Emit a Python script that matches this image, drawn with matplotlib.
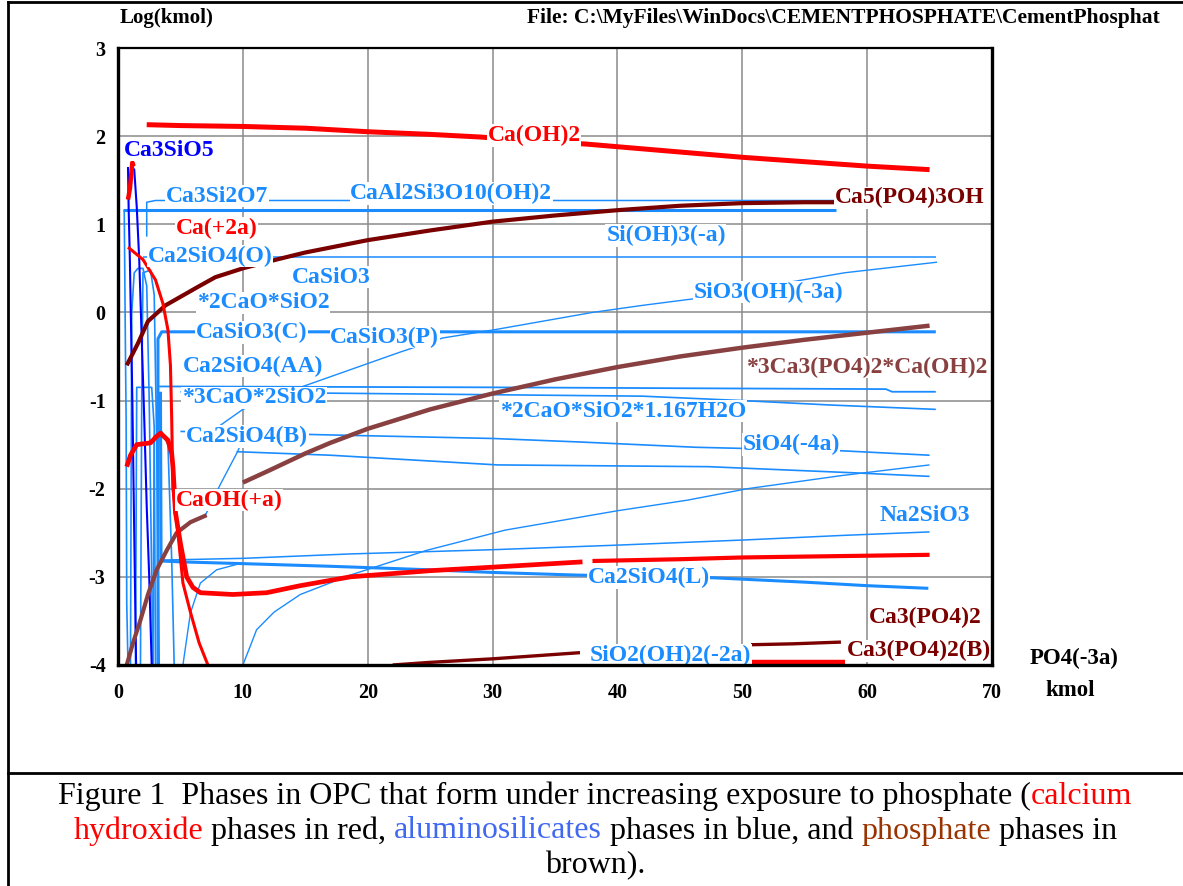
import matplotlib
matplotlib.use("Agg")
import matplotlib.pyplot as plt
from matplotlib.lines import Line2D

# ---------------------------------------------------------------- data
# PO4(-3a) added (kmol) vs. log10 of amount of each phase (kmol)

# calcium hydroxide phases (red)
ca_oh2_x = [2.3, 5, 10, 15, 20, 25, 29, 33, 37.5, 40, 45, 50, 55, 60, 65]
ca_oh2_y = [2.13, 2.12, 2.11, 2.09, 2.05, 2.02, 1.99, 1.95, 1.91, 1.88, 1.82, 1.76, 1.71, 1.66, 1.62]

ca2_x = [0.8, 2.0, 3.0, 3.6, 4.0, 4.2, 4.3, 4.35, 4.4, 4.8, 5.2, 5.8, 6.5, 7.2]
ca2_y = [0.74, 0.6, 0.37, 0.1, -0.2, -0.6, -1.2, -1.6, -2.0, -2.5, -3.07, -3.4, -3.75, -4.0]

ca2_top_x = [0.8, 0.95, 1.05, 1.15, 1.25]
ca2_top_y = [1.28, 1.4, 1.55, 1.7, 1.66]

caoh_x = [0.7, 1.0, 1.5, 2.6, 3.0, 3.4, 4.0, 4.3, 4.4, 4.5, 4.6, 5.0, 5.5, 6.0, 6.6,
          9.2, 11.9, 14.6, 18.6, 25, 30, 37.2]
caoh_y = [-1.75, -1.62, -1.5, -1.48, -1.42, -1.37, -1.45, -1.6, -1.75, -2.0, -2.27, -2.62,
          -3.0, -3.12, -3.18, -3.2, -3.18, -3.1, -3.0, -2.93, -2.89, -2.83]

caoh_b_x = [38, 45, 50, 55, 60, 65]
caoh_b_y = [-2.82, -2.8, -2.78, -2.77, -2.76, -2.75]

red_low_x = [50.7, 58.2]
red_low_y = [-3.97, -3.97]

# phosphate phases (brown)
hap_x = [0.7, 1.6, 2.4, 3.8, 6.4, 7.8, 10, 12.7, 15, 20, 25, 30, 35, 40, 45, 50, 55, 57.6]
hap_y = [-0.6, -0.35, -0.1, 0.08, 0.29, 0.4, 0.5, 0.6, 0.68, 0.82, 0.93, 1.03, 1.1, 1.16,
         1.21, 1.24, 1.25, 1.25]

oxy_x = [10, 12, 15, 17, 20, 25, 30, 35, 40, 45, 50, 55, 60, 65]
oxy_y = [-1.93, -1.8, -1.6, -1.48, -1.32, -1.1, -0.92, -0.76, -0.62, -0.5, -0.4, -0.31,
         -0.23, -0.15]

oxy_low_x = [0.7, 1.2, 1.8, 2.4, 3.1, 3.9, 4.7, 5.8, 7.1]
oxy_low_y = [-4.0, -3.75, -3.49, -3.2, -2.92, -2.7, -2.5, -2.38, -2.3]

tcp_x = [22, 25, 30, 34, 37]
tcp_y = [-4.0, -3.97, -3.93, -3.89, -3.86]

tcpb_x = [50.7, 54, 57.9]
tcpb_y = [-3.77, -3.76, -3.74]

# silicate phases (blue)
c3s_a_x = [0.8, 0.85, 0.95, 1.05, 1.15, 1.25, 1.35, 1.45]
c3s_a_y = [1.65, 1.2, 0.6, -0.2, -1.0, -2.0, -3.0, -4.0]
c3s_b_x = [1.1, 1.3, 1.5, 1.7, 1.9, 2.1, 2.3, 2.5, 2.7]
c3s_b_y = [1.65, 1.62, 1.2, 0.6, -0.3, -1.2, -2.2, -3.0, -4.0]

cash_x = [0.4, 57.5]
cash_y = [1.16, 1.16]

c3s2_x = [2.3, 2.3, 3.0, 57.5]
c3s2_y = [0.86, 1.25, 1.27, 1.27]

sioh3_x = [2.0, 65.5]
sioh3_y = [0.63, 0.63]

sio3oh_x = [6, 10, 14, 17, 22.6, 26, 30, 34, 38, 42, 46.4, 52, 58.2, 65.6]
sio3oh_y = [-1.5, -1.1, -0.88, -0.73, -0.45, -0.29, -0.2, -0.1, 0.0, 0.08, 0.16, 0.3,
            0.45, 0.57]

casio3_x = [3.2, 3.2, 3.5, 65.5]
casio3_y = [-4.0, -0.3, -0.22, -0.22]

c3s2o_x = [3.3, 4.5, 30, 45, 61.5, 62, 65.5]
c3s2o_y = [-0.84, -0.84, -0.85, -0.86, -0.87, -0.9, -0.9]

csh_x = [5, 20, 42, 50, 57, 65.5]
csh_y = [-0.9, -0.92, -0.95, -1.0, -1.05, -1.1]

sio4_x = [5, 17, 30, 37, 46.3, 58, 65]
sio4_y = [-1.35, -1.39, -1.43, -1.47, -1.53, -1.57, -1.62]

sio4b_x = [9.5, 17, 30.4, 47.3, 59, 65]
sio4b_y = [-1.58, -1.62, -1.73, -1.75, -1.82, -1.86]

rise_x = [10, 10.5, 11.1, 12.5, 14.6, 18.6, 24.7, 31, 40, 45.6, 50.4, 58, 65]
rise_y = [-4.0, -3.82, -3.6, -3.4, -3.2, -2.98, -2.7, -2.47, -2.25, -2.13, -2.0, -1.85, -1.73]

na2sio3_x = [3.4, 10, 18.6, 30.4, 40, 50.4, 58, 65]
na2sio3_y = [-2.81, -2.79, -2.74, -2.69, -2.64, -2.58, -2.53, -2.49]

c2s_l_x = [3.4, 3.45, 5, 10, 17, 25, 30, 36.8, 47.6, 55, 60, 64.9]
c2s_l_y = [-0.9, -2.82, -2.83, -2.85, -2.88, -2.92, -2.95, -2.98, -3.01, -3.06, -3.1, -3.13]

rise2_x = [5.2, 5.8, 6.6, 7.9, 10]
rise2_y = [-4.0, -3.41, -3.07, -2.92, -2.84]

link_x = [7.0, 8.2, 9.5, 10]
link_y = [-2.3, -1.95, -1.6, -1.45]

c2s_o_x = [1.0, 1.1, 1.3, 1.6, 2.0, 2.3, 2.5, 2.7, 2.8]
c2s_o_y = [-4.0, 0.0, 0.45, 0.5, 0.5, 0.3, -1.0, -3.0, -4.0]

c2s_x = [1.8, 1.9, 2.0, 2.6, 2.9, 3.1, 3.3]
c2s_y = [-4.0, -1.0, 0.45, 0.48, 0.2, -1.5, -4.0]

c2s_aa_x = [1.4, 1.5, 2.7, 2.9, 3.0]
c2s_aa_y = [-4.0, -0.85, -0.85, -1.3, -4.0]

c2s_b_x = [2.8, 2.9, 3.5, 4.0, 4.3, 4.5]
c2s_b_y = [-4.0, -1.4, -1.35, -1.5, -2.8, -4.0]

edge_x = [0.5, 0.6, 0.65, 0.7, 0.8]
edge_y = [1.16, -0.5, -1.2, -3.3, -4.0]

# phase labels: text, x, y, colour key
label_text = ["Ca3SiO5", "Ca3Si2O7", "CaAl2Si3O10(OH)2", "Ca(+2a)", "Ca2SiO4(O)", "CaSiO3",
              "*2CaO*SiO2", "CaSiO3(C)", "CaSiO3(P)", "Ca2SiO4(AA)", "*3CaO*2SiO2",
              "Ca2SiO4(B)", "CaOH(+a)", "Ca(OH)2", "Ca5(PO4)3OH", "Si(OH)3(-a)",
              "SiO3(OH)(-3a)", "*3Ca3(PO4)2*Ca(OH)2", "*2CaO*SiO2*1.167H2O", "SiO4(-4a)",
              "Na2SiO3", "Ca2SiO4(L)", "Ca3(PO4)2", "SiO2(OH)2(-2a)", "Ca3(PO4)2(B)"]
label_x = [0.5, 3.8, 18.6, 4.6, 2.4, 13.9, 6.3, 6.2, 17.0, 5.2, 5.1, 5.45, 4.6, 29.6,
           57.4, 39.1, 46.1, 50.3, 30.6, 50.0, 61.0, 37.6, 60.1, 37.8, 58.4]
label_y = [1.84, 1.32, 1.35, 0.95, 0.64, 0.40, 0.11, -0.23, -0.28, -0.61, -0.97, -1.41,
           -2.13, 2.01, 1.30, 0.87, 0.23, -0.62, -1.12, -1.50, -2.30, -3.01, -3.46,
           -3.89, -3.84]
label_kind = ["dblue", "blue", "blue", "red", "blue", "blue", "blue", "blue", "blue",
              "blue", "blue", "blue", "red", "red", "maroon", "blue", "blue", "brown",
              "blue", "blue", "blue", "blue", "maroon", "blue", "maroon"]

x_ticks = [0, 10, 20, 30, 40, 50, 60, 70]
y_ticks = [-4, -3, -2, -1, 0, 1, 2, 3]

# ---------------------------------------------------------------- styling
COL = {"red": "#ff0000", "blue": "#1a8cff", "dblue": "#0000ff",
       "maroon": "#7a0000", "brown": "#884040"}
SERIF = "Liberation Serif"

W, H = 1183, 886
fig = plt.figure(figsize=(W / 100, H / 100), dpi=100)
fig.patch.set_facecolor("white")

ax = fig.add_axes([118 / W, 1 - 665 / H, (992 - 118) / W, (665 - 48) / H])
ax.set_xlim(0, 70)
ax.set_ylim(-4, 3)
ax.set_xticks(x_ticks)
ax.set_yticks(y_ticks)
ax.set_xticklabels([str(v) for v in x_ticks], fontfamily=SERIF, fontweight="bold",
                   fontsize=14.5)
ax.set_yticklabels([str(v) for v in y_ticks], fontfamily=SERIF, fontweight="bold",
                   fontsize=14.5)
ax.tick_params(length=0, pad=9)
ax.tick_params(axis="x", pad=13)
ax.grid(True, color="#8a8a8a", lw=1.1, zorder=0)
ax.set_axisbelow(True)
for side, sp in ax.spines.items():
    sp.set_color("black")
    sp.set_linewidth(2.4 if side in ("left", "bottom", "right") else 1.6)
    sp.set_zorder(6)

series = [
    # (x, y, colour, width)
    (cash_x, cash_y, "blue", 2.2),
    (c3s2_x, c3s2_y, "blue", 1.1),
    (sioh3_x, sioh3_y, "blue", 1.1),
    (sio3oh_x, sio3oh_y, "blue", 1.0),
    (casio3_x, casio3_y, "blue", 2.2),
    (c3s2o_x, c3s2o_y, "blue", 1.3),
    (csh_x, csh_y, "blue", 1.2),
    (sio4_x, sio4_y, "blue", 1.2),
    (sio4b_x, sio4b_y, "blue", 1.2),
    (rise_x, rise_y, "blue", 1.0),
    (na2sio3_x, na2sio3_y, "blue", 1.1),
    (c2s_l_x, c2s_l_y, "blue", 2.2),
    (rise2_x, rise2_y, "blue", 1.0),
    (link_x, link_y, "blue", 1.0),
    (c2s_o_x, c2s_o_y, "blue", 1.2),
    (c2s_x, c2s_y, "blue", 1.2),
    (c2s_aa_x, c2s_aa_y, "blue", 1.2),
    (c2s_b_x, c2s_b_y, "blue", 1.2),
    (edge_x, edge_y, "blue", 1.2),
    (c3s_a_x, c3s_a_y, "dblue", 1.5),
    (c3s_b_x, c3s_b_y, "dblue", 1.5),
    (hap_x, hap_y, "maroon", 3.0),
    (oxy_x, oxy_y, "brown", 3.2),
    (oxy_low_x, oxy_low_y, "brown", 3.0),
    (tcp_x, tcp_y, "maroon", 2.4),
    (tcpb_x, tcpb_y, "maroon", 2.4),
    (ca_oh2_x, ca_oh2_y, "red", 3.6),
    (ca2_x, ca2_y, "red", 2.2),
    (ca2_top_x, ca2_top_y, "red", 3.2),
    (caoh_x, caoh_y, "red", 3.4),
    (caoh_b_x, caoh_b_y, "red", 3.0),
    (red_low_x, red_low_y, "red", 3.2),
]
for xs, ys, c, lw in series:
    ax.plot(xs, ys, color=COL[c], lw=lw, solid_capstyle="butt", zorder=3)

for t, x, y, k in zip(label_text, label_x, label_y, label_kind):
    ax.text(x, y, t, color=COL[k], fontfamily=SERIF, fontweight="bold", fontsize=17,
            ha="left", va="center", zorder=5,
            bbox=dict(facecolor="white", edgecolor="none", pad=0.5))

# header and axis captions
fig.text(120 / W, 1 - 18 / H, "Log(kmol)", fontfamily=SERIF, fontweight="bold",
         fontsize=15, ha="left", va="center")
fig.text(527 / W, 1 - 18 / H,
         "File: C:\\MyFiles\\WinDocs\\CEMENTPHOSPHATE\\CementPhosphat",
         fontfamily=SERIF, fontweight="bold", fontsize=15.5, ha="left", va="center")
fig.text(1030 / W, 1 - 658 / H, "PO4(-3a)", fontfamily=SERIF, fontweight="bold",
         fontsize=16.5, ha="left", va="center")
fig.text(1045 / W, 1 - 690 / H, "kmol", fontfamily=SERIF, fontweight="bold",
         fontsize=16.5, ha="left", va="center")

# page frame
fr = dict(color="black", lw=2.0, transform=fig.transFigure)
fig.add_artist(Line2D([8 / W, 1], [1 - 2 / H, 1 - 2 / H], **fr))
fig.add_artist(Line2D([8 / W, 8 / W], [0, 1 - 2 / H], **fr))
fig.add_artist(Line2D([8 / W, 1], [1 - 773 / H, 1 - 773 / H], **fr))

# multi-coloured caption
cap_lines = [
    [("Figure 1  Phases in OPC that form under increasing exposure to phosphate (", "black"),
     ("calcium", "#ff0000")],
    [("hydroxide", "#ff0000"), (" phases in red, ", "black"),
     ("aluminosilicates", "#4169f0"), (" phases in blue, and ", "black"),
     ("phosphate", "#993300"), (" phases in", "black")],
    [("brown).", "black")],
]
cap_y = [796, 831, 866]
cap_fs = 23

fig.canvas.draw()
renderer = fig.canvas.get_renderer()


def text_width(s):
    t = fig.text(0, 0, s + "|", fontfamily=SERIF, fontsize=cap_fs)
    w1 = t.get_window_extent(renderer).width
    t.set_text("|")
    w2 = t.get_window_extent(renderer).width
    t.remove()
    return w1 - w2


for segs, yy in zip(cap_lines, cap_y):
    full = "".join(s for s, _ in segs)
    total = text_width(full)
    x0 = (W - total) / 2 + 4
    prefix = ""
    for s, c in segs:
        xpos = x0 + text_width(prefix) if prefix else x0
        fig.text(xpos / W, 1 - yy / H, s, fontfamily=SERIF, fontsize=cap_fs, color=c,
                 ha="left", va="center")
        prefix += s

fig.savefig("out.png", dpi=100, facecolor="white")
